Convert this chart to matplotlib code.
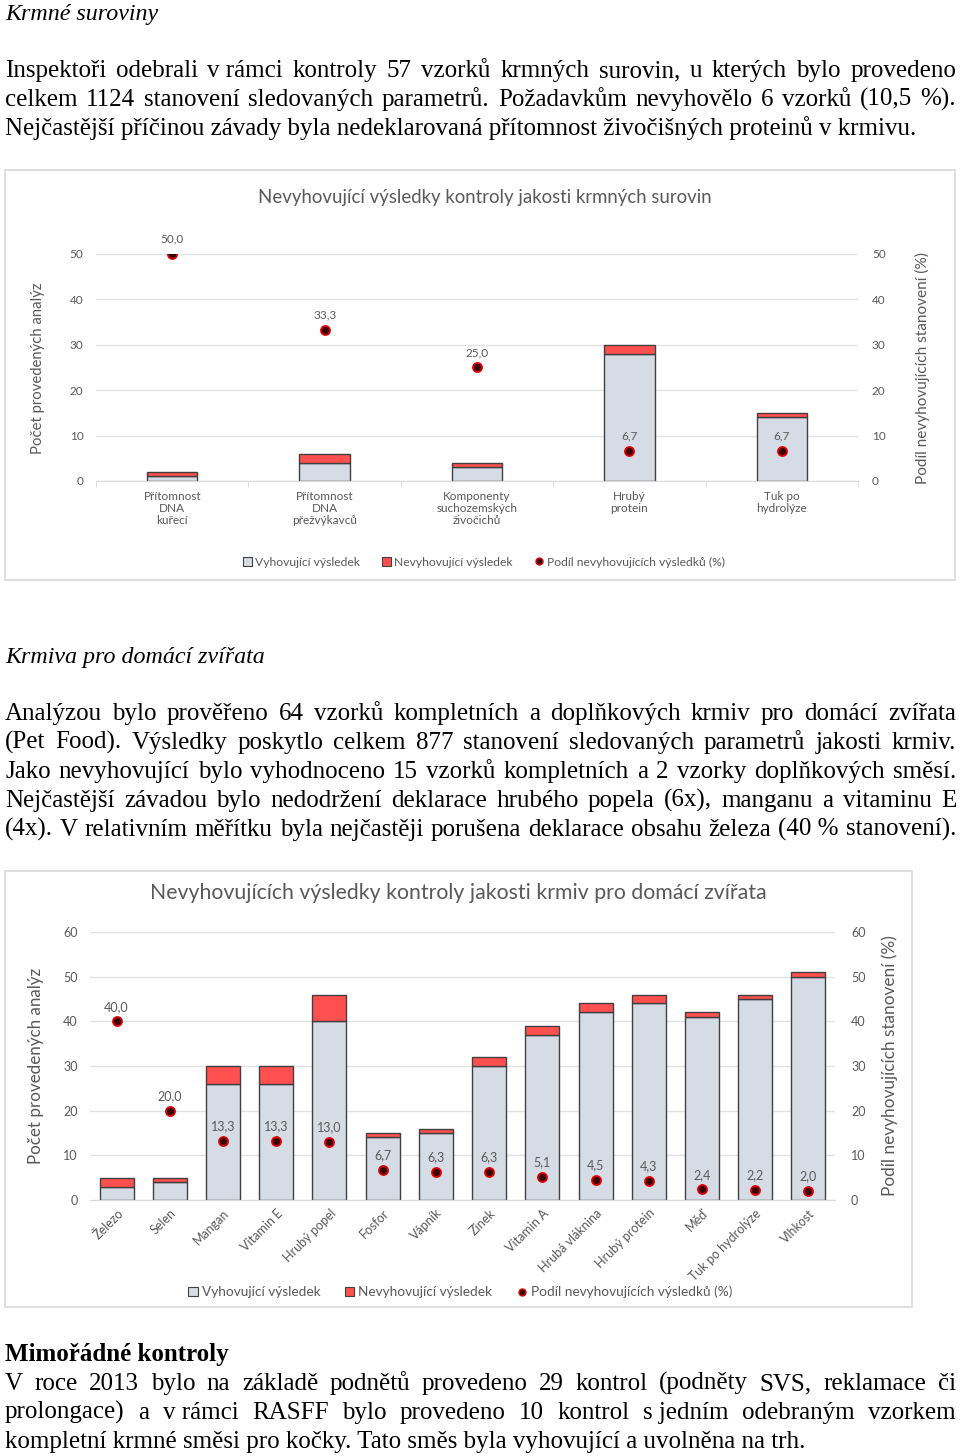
import matplotlib
matplotlib.use("Agg")
import matplotlib.pyplot as plt
from matplotlib.patches import Rectangle, Patch
from matplotlib.lines import Line2D
import numpy as np

W, H = 960, 1456

# krmné suroviny
raw_labels = ["Přítomnost\nDNA\nkuřecí", "Přítomnost\nDNA\npřežvýkavců",
              "Komponenty\nsuchozemských\nživočichů", "Hrubý\nprotein", "Tuk po\nhydrolýze"]
raw_ok = [1, 4, 3, 28, 14]
raw_bad = [1, 2, 1, 2, 1]
raw_pct = [50.0, 33.3, 25.0, 6.7, 6.7]

# krmiva pro domácí zvířata
pet_labels = ["Železo", "Selen", "Mangan", "Vitamin E", "Hrubý popel", "Fosfor", "Vápník",
              "Zinek", "Vitamin A", "Hrubá vláknina", "Hrubý protein", "Měď",
              "Tuk po hydrolýze", "Vlhkost"]
pet_ok = [3, 4, 26, 26, 40, 14, 15, 30, 37, 42, 44, 41, 45, 50]
pet_bad = [2, 1, 4, 4, 6, 1, 1, 2, 2, 2, 2, 1, 1, 1]
pet_pct = [40.0, 20.0, 13.3, 13.3, 13.0, 6.7, 6.3, 6.3, 5.1, 4.5, 4.3, 2.4, 2.2, 2.0]

legend_labels = ["Vyhovující výsledek", "Nevyhovující výsledek", "Podíl nevyhovujících výsledků (%)"]

NB = "\u00a0"
para1 = ["Inspektoři odebrali v" + NB + "rámci kontroly 57 vzorků krmných surovin, u kterých bylo provedeno",
         "celkem 1124 stanovení sledovaných parametrů. Požadavkům nevyhovělo 6 vzorků (10,5 %).",
         "Nejčastější příčinou závady byla nedeklarovaná přítomnost živočišných proteinů v krmivu."]
para2 = ["Analýzou bylo prověřeno 64 vzorků kompletních a doplňkových krmiv pro domácí zvířata",
         "(Pet Food). Výsledky poskytlo celkem 877 stanovení sledovaných parametrů jakosti krmiv.",
         "Jako nevyhovující bylo vyhodnoceno 15 vzorků kompletních a 2 vzorky doplňkových směsí.",
         "Nejčastější závadou bylo nedodržení deklarace hrubého popela (6x), manganu a vitaminu E",
         "(4x). V relativním měřítku byla nejčastěji porušena deklarace obsahu železa (40" + NB + "% stanovení)."]
para3 = ["V roce 2013 bylo na základě podnětů provedeno  29 kontrol (podněty SVS, reklamace či",
         "prolongace) a v" + NB + "rámci RASFF bylo provedeno 10 kontrol s" + NB + "jedním odebraným vzorkem",
         "kompletní krmné směsi pro kočky. Tato směs byla vyhovující a uvolněna na trh."]

GRAY = "#595959"
OK_C = "#D6DCE5"
BAD_C = "#FF5050"
EDGE = "#404040"
DOT_F = "#3A0000"
DOT_E = "#E00000"

plt.rcParams['font.family'] = ['Lato', 'DejaVu Sans']

fig = plt.figure(figsize=(W / 100, H / 100), dpi=100)
fig.canvas.draw()
renderer = fig.canvas.get_renderer()


def fx(x):
    return x / W


def fy(y):
    return 1 - y / H


def measure(s, size, **kw):
    t = fig.text(0, 0, s, fontsize=size, **kw)
    w = t.get_window_extent(renderer).width
    t.remove()
    return w


def fit(s, target, **kw):
    return 10 * target / measure(s, 10, **kw)


SERIF = dict(family='Liberation Serif')
body_fs = fit(para1[2], 913, **SERIF)


def put_line(line, y, justify=True, **kw):
    x0, x1 = 5, 956
    if not justify:
        fig.text(fx(x0), fy(y), line, fontsize=body_fs, va='baseline', ha='left', **kw)
        return
    words = [w for w in line.split(' ') if w]
    widths = [measure(w, body_fs, **kw) for w in words]
    gap = (x1 - x0 - sum(widths)) / (len(words) - 1)
    x = x0
    for w, wd in zip(words, widths):
        fig.text(fx(x), fy(y), w, fontsize=body_fs, va='baseline', ha='left', **kw)
        x += wd + gap


def put_para(lines, ys, last_justify=False):
    for i, (ln, y) in enumerate(zip(lines, ys)):
        put_line(ln, y, justify=(i < len(lines) - 1) or last_justify, **SERIF)


# texts
fig.text(fx(5), fy(20), "Krmné suroviny", fontsize=body_fs * 0.96, style='italic', va='baseline', **SERIF)
put_para(para1, [77, 106, 135])
fig.text(fx(5), fy(663), "Krmiva pro domácí zvířata", fontsize=body_fs * 0.96, style='italic', va='baseline', **SERIF)
put_para(para2, [720, 749, 778, 807, 836], last_justify=True)
fig.text(fx(5), fy(1361), "Mimořádné kontroly", fontsize=body_fs, weight='bold', va='baseline', **SERIF)
put_para(para3, [1390, 1419, 1448])


def frame(x0, y0, x1, y1):
    fig.add_artist(Rectangle((fx(x0), fy(y1)), (x1 - x0) / W, (y1 - y0) / H,
                             transform=fig.transFigure, fill=False, edgecolor='#D9D9D9', lw=1.2))


def chart(box, labels, ok, bad, pct, ymax, bw, fs, lpad, rpad, rot, title, tpos, ttw,
          ylw, yrw, ylx, yrx, yc, legpos, legw):
    x0, y0, x1, y1 = box
    ax = fig.add_axes([fx(x0), fy(y1), (x1 - x0) / W, (y1 - y0) / H])
    x = np.arange(len(labels))
    ax.bar(x, ok, bw, color=OK_C, edgecolor=EDGE, lw=1.0, zorder=2)
    ax.bar(x, bad, bw, bottom=ok, color=BAD_C, edgecolor=EDGE, lw=1.0, zorder=2)
    ax.set_xlim(-0.5, len(labels) - 0.5)
    ax.set_ylim(0, ymax)
    ax.set_yticks(range(0, ymax + 1, 10))
    ax.yaxis.grid(True, color='#E3E3E3', lw=1)
    ax.set_axisbelow(True)
    for s in ['top', 'left', 'right']:
        ax.spines[s].set_visible(False)
    ax.spines['bottom'].set_color('#D9D9D9')
    ax.set_xticks(x)
    if rot:
        ax.set_xticklabels(labels, rotation=45, ha='right', rotation_mode='anchor')
        ax.tick_params(axis='x', length=0, pad=5, labelsize=fs, labelcolor=GRAY)
    else:
        ax.set_xticklabels(labels, linespacing=1.1)
        ax.set_xticks(np.arange(-0.5, len(labels), 1), minor=True)
        ax.tick_params(axis='x', which='minor', length=4, color='#D9D9D9')
        ax.tick_params(axis='x', which='major', length=0, pad=7, labelsize=fs, labelcolor=GRAY)
    ax.tick_params(axis='y', length=0, pad=lpad, labelsize=fs, labelcolor=GRAY)

    axr = ax.twinx()
    axr.set_ylim(0, ymax)
    axr.set_yticks(range(0, ymax + 1, 10))
    for s in axr.spines.values():
        s.set_visible(False)
    axr.tick_params(axis='y', length=0, pad=rpad, labelsize=fs, labelcolor=GRAY)
    axr.plot(x, pct, 'o', ls='none', ms=6.5, mfc=DOT_F, mec=DOT_E, mew=1.3, zorder=3)
    for xi, v in zip(x, pct):
        axr.annotate(f"{v:.1f}".replace('.', ','), (xi, v), xytext=(0, 10.5),
                     textcoords='offset points', ha='center', va='center',
                     fontsize=fs, color=GRAY)

    fig.text(fx(tpos[0]), fy(tpos[1]), title, fontsize=fit(title, ttw), color=GRAY,
             ha='center', va='center')
    yl = "Počet provedených analýz"
    yr = "Podíl nevyhovujících stanovení (%)"
    fig.text(fx(ylx), fy(yc), yl, fontsize=fit(yl, ylw), color=GRAY, rotation=90,
             ha='center', va='center')
    fig.text(fx(yrx), fy(yc), yr, fontsize=fit(yr, yrw), color=GRAY, rotation=90,
             ha='center', va='center')

    handles = [Patch(facecolor=OK_C, edgecolor=EDGE, lw=0.8),
               Patch(facecolor=BAD_C, edgecolor=EDGE, lw=0.8),
               Line2D([], [], marker='o', ls='none', ms=5, mfc=DOT_F, mec=DOT_E, mew=1.0)]
    fig.legend(handles, legend_labels, loc='center', bbox_to_anchor=(fx(legpos[0]), fy(legpos[1])),
               ncol=3, frameon=False, fontsize=fit(legend_labels[0], legw), labelcolor=GRAY,
               handlelength=0.7, handleheight=0.7, handletextpad=0.3, columnspacing=1.8)
    return ax


frame(5, 170, 955, 580)
chart((96, 254, 858, 481), raw_labels, raw_ok, raw_bad, raw_pct, 50, 0.33, 8.5,
      9, 10, False, "Nevyhovující výsledky kontroly jakosti krmných surovin", (485, 197), 456,
      172, 233, 38, 922, 368, (484, 562), 105)

frame(5, 871, 912, 1307)
chart((90, 932, 835, 1200), pet_labels, pet_ok, pet_bad, pet_pct, 60, 0.64, 9,
      9, 11.5, True, "Nevyhovujících výsledky kontroly jakosti krmiv pro domácí zvířata", (458, 893), 616,
      197, 260, 36, 890, 1066, (460, 1292), 118)

fig.savefig("out.png", dpi=100)
